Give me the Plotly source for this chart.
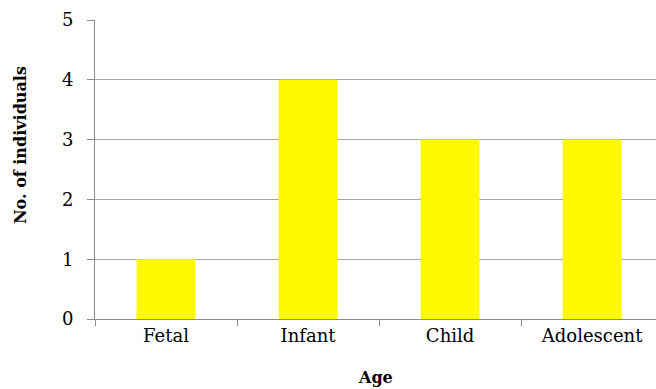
import plotly.graph_objects as go

categories = ["Fetal", "Infant", "Child", "Adolescent"]
counts = [1, 4, 3, 3]
y_ticks = [0, 1, 2, 3, 4, 5]

font_family = "DejaVu Serif"

fig = go.Figure(go.Bar(
    x=categories, y=counts, width=0.415,
    marker=dict(color="#FFFA00", line=dict(width=0)),
    hoverinfo="skip",
))

fig.update_layout(
    width=656, height=389,
    margin=dict(l=95, r=0, t=20, b=70, autoexpand=False),
    paper_bgcolor="white", plot_bgcolor="white",
    showlegend=False,
    font=dict(family=font_family, size=18, color="black"),
)
fig.update_xaxes(
    type="category", range=[-0.5, 3.45], automargin=False,
    showline=True, linecolor="#8c8c8c", linewidth=1,
    ticks="outside", tickson="boundaries", ticklen=6, tickcolor="#8c8c8c",
    showgrid=False,
    tickfont=dict(family=font_family, size=18),
)
fig.update_yaxes(
    range=[0, 5], tickvals=y_ticks, automargin=False,
    showline=True, linecolor="#8c8c8c", linewidth=1,
    ticks="outside", ticklen=7, tickcolor="#8c8c8c",
    showgrid=True, gridcolor="#a6a6a6", gridwidth=1,
    zeroline=False,
    ticklabelstandoff=10,
    tickfont=dict(family=font_family, size=18),
)

# Axis titles placed as in the reference (paper coords relative to plot area)
fig.add_annotation(
    text="<b>No. of individuals</b>", textangle=-90,
    xref="paper", yref="paper", x=(20 - 95) / 561, y=(319 - 145) / 299,
    showarrow=False, font=dict(family=font_family, size=16),
    xanchor="center", yanchor="middle",
)
fig.add_annotation(
    text="<b>Age</b>",
    xref="paper", yref="paper", x=(375 - 95) / 561, y=(319 - 377) / 299,
    showarrow=False, font=dict(family=font_family, size=16),
    xanchor="center", yanchor="middle",
)

fig.write_html(
    "out.html",
    config={"displayModeBar": False, "staticPlot": True},
    post_script="document.body.style.margin='0';document.body.style.overflow='hidden';",
)
